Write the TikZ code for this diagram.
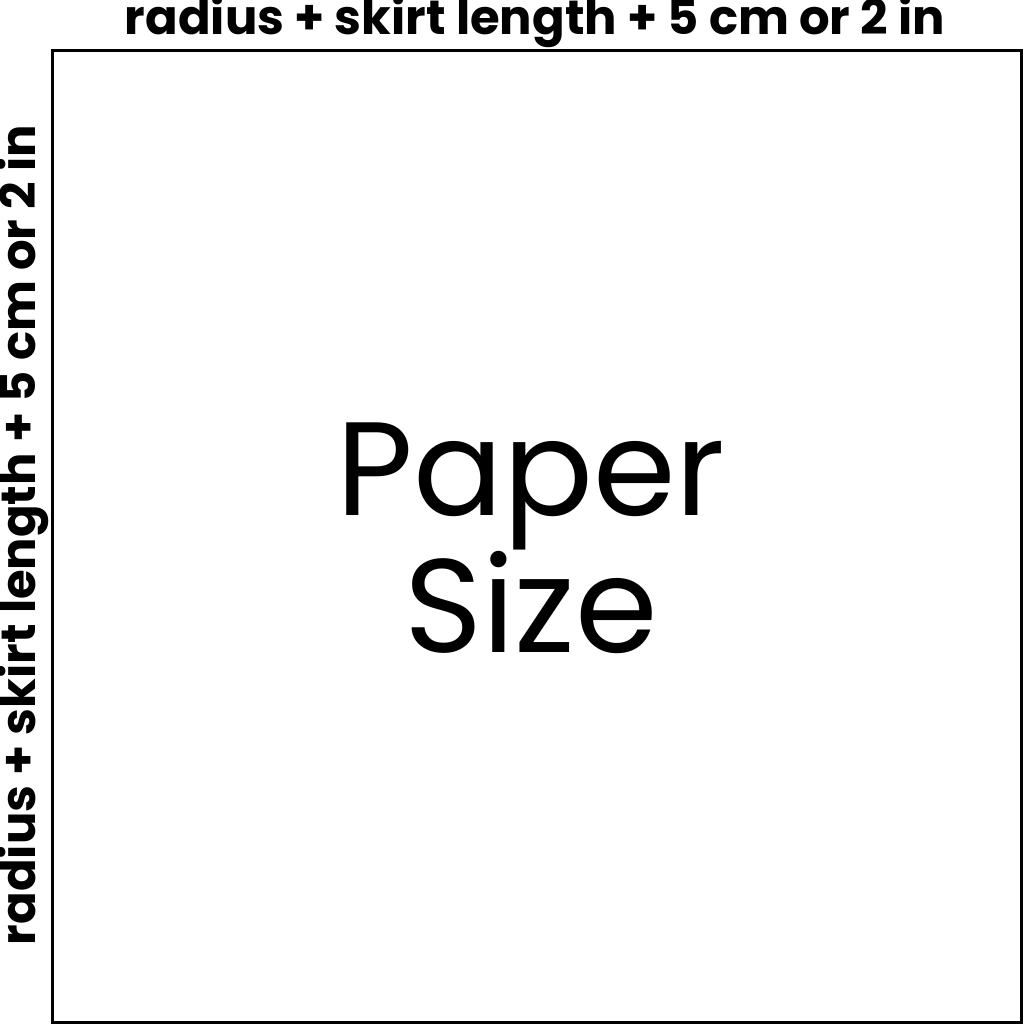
\documentclass[tikz,border=0pt]{standalone}
\usepackage{fontspec}
\setmainfont{Poppins}
\begin{document}
\begin{tikzpicture}[x=1pt,y=-1pt,
  lbl/.style={inner sep=0pt,font=\bfseries\fontsize{38}{40}\selectfont},
  big/.style={inner sep=0pt,align=center,font=\fontsize{133}{130}\selectfont}]
\useasboundingbox (0,0) rectangle (1024,1024);
\fill[white] (0,0) rectangle (1024,1024);
\node[draw,line width=3pt,minimum width=969pt,minimum height=972pt,anchor=north west,inner sep=0pt] (box) at (51,49) {};
\node[lbl] (top) at (535,22) {\resizebox{820pt}{!}{radius + skirt length + 5 cm or 2 in}};
\node[lbl,rotate=90] (left) at (23,535) {\resizebox{820pt}{!}{radius + skirt length + 5 cm or 2 in}};
\node[big] (paper) at (531,538) {Paper\\Size};
\end{tikzpicture}
\end{document}
